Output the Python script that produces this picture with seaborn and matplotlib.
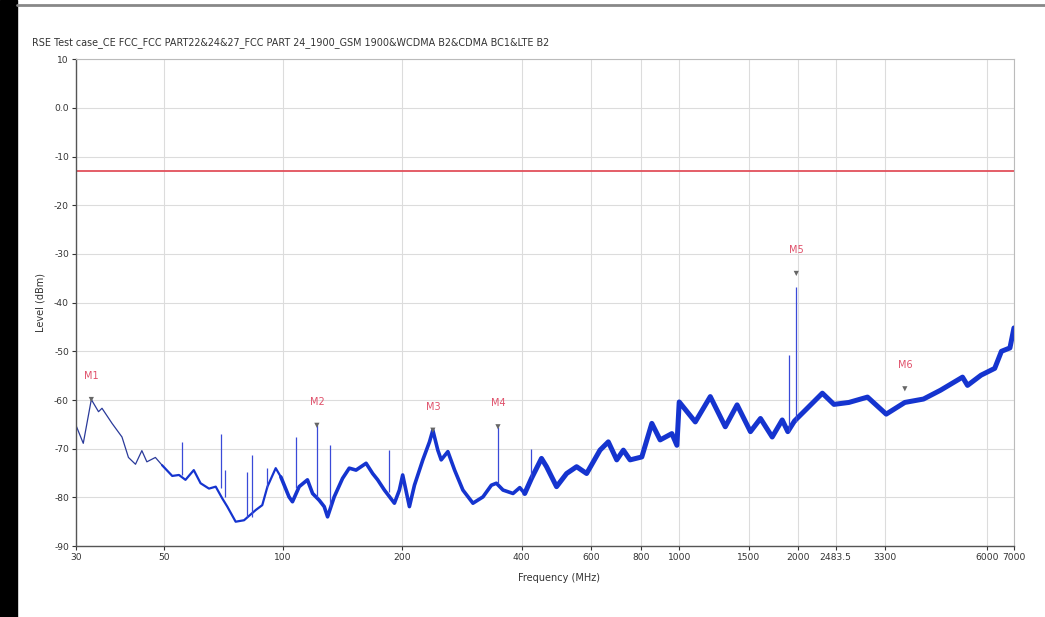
import numpy as np
import pandas as pd
import matplotlib
matplotlib.use("Agg")
from matplotlib import pyplot as plt
from matplotlib.patches import Rectangle
from matplotlib.lines import Line2D
import seaborn as sns

# trace (MHz, dBm)
freq_mhz = [30, 31.3, 32.8, 34.2, 34.9, 37.0, 39.2, 40.7, 42.4, 44.0, 45.3, 47.6, 49.5,
            52.5, 54.6, 56.7, 59.5, 61.9, 65.0, 67.6, 70.2, 72.3, 75.9, 79.7, 85.3, 88.6,
            91.3, 95.8, 98.7, 103.5, 105.6, 109.8, 115.2, 118.7, 123.4, 127.0, 129.5,
            134.6, 141.3, 146.9, 152.8, 162.0, 168.3, 173.3, 180.2, 191.0, 196.6, 200.4,
            208.4, 214.6, 225.3, 234.2, 238.8, 245.8, 250.7, 260.6, 271.0, 284.4, 301.5,
            319.6, 335.6, 345.5, 359.1, 380.6, 395.8, 407.4, 423.7, 449.1, 462.5, 490.2,
            519.7, 550.8, 583.8, 631, 662.2, 695.5, 722.8, 751.5, 804.6, 852.9, 895.1,
            958.3, 986.7, 1000, 1098, 1198, 1307, 1400, 1513, 1604, 1717, 1820, 1880,
            1955, 2105, 2298, 2458, 2682, 2988, 3331, 3712, 4138, 4566, 5191, 5344,
            5781, 6259, 6508, 6838, 7000]
level_dbm = [-65.2, -68.9, -59.9, -62.4, -61.7, -64.8, -67.6, -71.8, -73.2, -70.4, -72.7,
             -71.8, -73.4, -75.6, -75.4, -76.4, -74.4, -77.1, -78.2, -77.8, -80.2, -81.9,
             -85.0, -84.7, -82.6, -81.6, -77.8, -74.0, -75.8, -79.9, -80.9, -77.8, -76.4,
             -79.2, -80.6, -81.9, -84.0, -79.9, -76.1, -74.0, -74.4, -73.0, -75.1, -76.4,
             -78.5, -81.2, -78.5, -75.4, -81.9, -77.5, -72.3, -68.6, -66.2, -70.3, -72.3,
             -70.6, -74.4, -78.5, -81.2, -79.9, -77.5, -77.1, -78.5, -79.2, -78.0, -79.2,
             -76.1, -72.0, -73.7, -77.8, -75.1, -73.7, -75.1, -70.3, -68.6, -72.3, -70.3,
             -72.3, -71.7, -64.8, -68.2, -66.9, -69.3, -60.4, -64.5, -59.3, -65.5, -61.0,
             -66.5, -63.8, -67.6, -64.1, -66.5, -64.3, -61.7, -58.6, -60.9, -60.5, -59.4,
             -62.9, -60.5, -59.8, -58.0, -55.3, -57.0, -54.9, -53.5, -50.0, -49.3, -45.2]

# narrow spurs (MHz, top dBm, base dBm)
spur_freq = [55.6, 69.6, 71.4, 81.2, 83.6, 91.3, 108.1, 121.7, 131.5, 184.8, 348.7, 423.7, 1891, 1975]
spur_top = [-68.6, -66.9, -74.4, -74.7, -71.3, -74.0, -67.6, -65.2, -69.3, -70.3, -65.5, -70.0, -50.7, -36.8]
spur_base = [-75.5, -78.0, -80.0, -84.0, -84.0, -78.0, -78.0, -80.0, -82.0, -79.0, -77.0, -76.0, -66.5, -64.5]

marker_names = ["M1", "M2", "M3", "M4", "M5", "M6"]
marker_freq = [32.8, 121.7, 238.8, 348.7, 1975, 3712]
marker_level = [-59.9, -65.2, -66.2, -65.5, -34.0, -57.7]

limit_dbm = -13

x_ticks = [30, 50, 100, 200, 400, 600, 800, 1000, 1500, 2000, 2483.5, 3300, 6000, 7000]
x_tick_labels = ["30", "50", "100", "200", "400", "600", "800", "1000", "1500", "2000",
                 "2483.5", "3300", "6000", "7000"]
y_ticks = [10, 0, -10, -20, -30, -40, -50, -60, -70, -80, -90]
y_tick_labels = ["10", "0.0", "-10", "-20", "-30", "-40", "-50", "-60", "-70", "-80", "-90"]

title = "RSE Test case_CE FCC_FCC PART22&24&27_FCC PART 24_1900_GSM 1900&WCDMA B2&CDMA BC1&LTE B2"

sns.set_style("whitegrid")
plt.rcParams["font.family"] = ["DejaVu Sans"]

df = pd.DataFrame({"freq": freq_mhz, "level": level_dbm})
blue = "#1534cf"

fig = plt.figure(figsize=(10.45, 6.17), dpi=100)
ax = fig.add_axes([0.0727, 0.115, 0.8976, 0.789])

# thin dark trace at the low end, thicker noisy band higher up
bands = [(0, 50, "#2a3a9a", 0.9), (49.5, 100, blue, 1.6), (98.7, 410, blue, 2.6), (407, 8000, blue, 3.6)]
for lo, hi, col, width in bands:
    part = df[(df["freq"] >= lo) & (df["freq"] <= hi)]
    sns.lineplot(data=part, x="freq", y="level", ax=ax, color=col, lw=width, sort=False,
                 estimator=None)
ax.vlines(spur_freq, spur_base, spur_top, color="#3a4ad8", lw=0.9)

ax.axhline(limit_dbm, color="#e2505c", lw=1.3)

sns.scatterplot(x=marker_freq, y=marker_level, ax=ax, marker="v", s=14, color="#666666",
                edgecolor="none", zorder=5)
for name, f, lv in zip(marker_names, marker_freq, marker_level):
    ax.annotate(name, (f, lv), xytext=(0, 17), textcoords="offset points", ha="center",
                va="center", fontsize=7, color="#e0506a")

ax.set_xscale("log")
ax.set_xlim(30, 7000)
ax.set_ylim(-90, 10)
ax.set_xticks(x_ticks)
ax.set_xticklabels(x_tick_labels)
ax.xaxis.set_minor_locator(matplotlib.ticker.NullLocator())
ax.set_yticks(y_ticks)
ax.set_yticklabels(y_tick_labels)
ax.tick_params(axis="both", labelsize=6.6, colors="#333333", length=3, width=0.8,
               direction="out", pad=2, bottom=True, left=True)
ax.grid(True, color="#dcdcdc", lw=0.8)
for side in ["left", "bottom"]:
    ax.spines[side].set_color("#555555")
    ax.spines[side].set_linewidth(1.0)
for side in ["top", "right"]:
    ax.spines[side].set_color("#bbbbbb")
    ax.spines[side].set_linewidth(0.8)

ax.set_xlabel("Frequency (MHz)", fontsize=7, color="#333333", labelpad=8)
ax.xaxis.set_label_coords(0.515, -0.055)
ax.set_ylabel("Level (dBm)", fontsize=7, color="#333333", labelpad=6)
fig.text(32 / 1045, 1 - 43 / 617, title, fontsize=6.9, color="#333333", va="center", ha="left")

# screenshot frame
fig.add_artist(Rectangle((0, 0), 17 / 1045, 1, transform=fig.transFigure, color="black"))
fig.add_artist(Line2D([17 / 1045, 1], [1 - 5 / 617, 1 - 5 / 617], transform=fig.transFigure,
                      color="#888888", lw=2))

fig.savefig("out.png", dpi=100)
